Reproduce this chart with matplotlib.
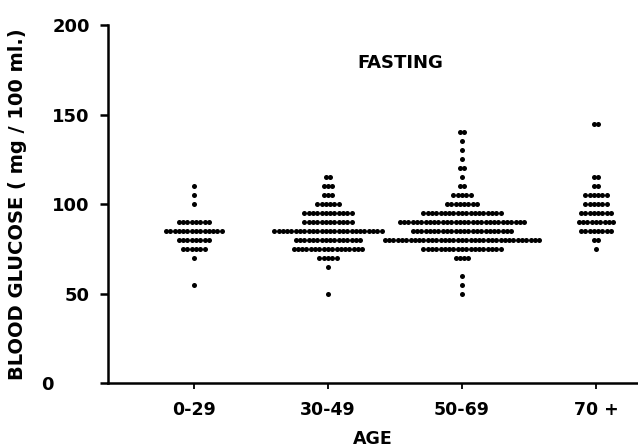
import matplotlib
matplotlib.use("Agg")
import matplotlib.pyplot as plt
import numpy as np
from matplotlib.transforms import ScaledTranslation

# age groups on the x axis
ages = ["0-29", "30-49", "50-69", "70 +"]

# glucose level of each row of dots (mg/100 ml) and number of subjects in that row
levels_0_29 = [110, 105, 100, 90, 85, 80, 75, 70, 55]
counts_0_29 = [1, 1, 1, 8, 14, 8, 6, 1, 1]

levels_30_49 = [115, 110, 105, 100, 95, 90, 85, 80, 75, 70, 65, 50]
counts_30_49 = [2, 3, 3, 6, 12, 12, 26, 16, 17, 5, 1, 1]

levels_50_69 = [140, 135, 130, 125, 120, 115, 110, 105, 100, 95, 90, 85, 80, 75, 70, 60, 55, 50]
counts_50_69 = [2, 1, 1, 1, 2, 1, 2, 5, 8, 19, 30, 24, 37, 19, 4, 1, 1, 1]

levels_70 = [145, 115, 110, 105, 100, 95, 90, 85, 80, 75]
counts_70 = [2, 2, 2, 6, 6, 8, 9, 8, 2, 1]

groups = [(levels_0_29, counts_0_29), (levels_30_49, counts_30_49),
          (levels_50_69, counts_50_69), (levels_70, counts_70)]

plt.rcParams['font.family'] = ['DejaVu Sans']
plt.rcParams['font.weight'] = 'bold'
plt.rcParams['axes.labelweight'] = 'bold'

fig = plt.figure(figsize=(6.38, 4.48), dpi=100)
ax = fig.add_axes([0.169, 0.145, 0.831, 0.799])

dx = 0.032  # horizontal spacing of dots in a row
for i, (levels, counts) in enumerate(groups):
    xc = i + 1
    for lev, n in zip(levels, counts):
        xs = xc + (np.arange(n) - (n - 1) / 2) * dx
        ax.scatter(xs, np.full(n, lev), s=13, color='black', linewidths=0)

ax.set_xlim(0.358, 4.313)
ax.set_ylim(0, 200)

ax.spines['top'].set_visible(False)
ax.spines['right'].set_visible(False)
ax.spines['left'].set_linewidth(1.8)
ax.spines['bottom'].set_linewidth(1.8)

ax.set_xticks(range(1, 5))
ax.set_xticklabels(ages, fontsize=12.5)
ax.set_yticks([0, 50, 100, 150, 200])
ax.set_yticklabels(['0', '50', '100', '150', '200'], fontsize=13)
ax.tick_params(axis='y', direction='out', length=6, width=1.8, pad=7)
ax.tick_params(axis='x', direction='out', length=4, width=1.3, pad=9)

# the zero label sits further left in the original
lab0 = ax.get_yticklabels()[0]
lab0.set_transform(lab0.get_transform() + ScaledTranslation(-0.36, 0, fig.dpi_scale_trans))

ax.set_xlabel("AGE", fontsize=12.5, labelpad=8)
ax.set_ylabel("BLOOD GLUCOSE ( mg / 100 ml.)", fontsize=14, labelpad=10)

ax.text(2.54, 179, "FASTING", fontsize=13, ha='center', va='center')

fig.savefig("out.png", dpi=100)
